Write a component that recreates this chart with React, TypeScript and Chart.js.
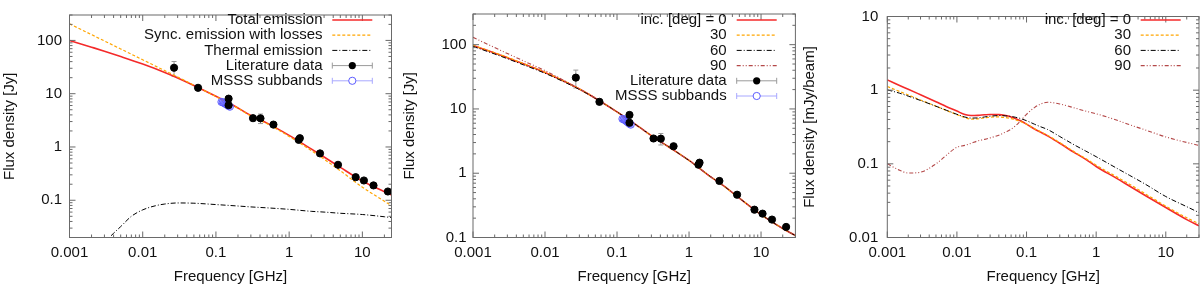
import React, { useEffect, useRef } from 'react';
import { Chart, registerables } from 'chart.js';

Chart.register(...registerables);

const FONT = '"Liberation Sans", Arial, Helvetica, sans-serif';
const TEXT = '#111111';
const AXIS = '#6a6a6a';

// ---------- observational data (panels 1 & 2) ----------
const litFreq = [0.0268, 0.057, 0.149, 0.149, 0.321, 0.406, 0.61, 1.35, 1.4, 2.64, 4.65, 8.1, 10.5, 14.2, 22.3];
const litFlux = [30.7, 12.9, 8.07, 6.1, 3.47, 3.45, 2.63, 1.36, 1.46, 0.758, 0.463, 0.271, 0.235, 0.19, 0.146];
const litErr = [9.5, 1.3, 0.6, 0.5, 0.2, 0.7, 0.15, 0.07, 0.07, 0.04, 0.025, 0.015, 0.012, 0.01, 0.008];
const msssFreq = [0.119, 0.124, 0.129, 0.134, 0.139, 0.144, 0.149, 0.155];
const msssFlux = [7.0, 6.9, 6.7, 6.5, 6.3, 6.1, 5.9, 5.7];
const msssErr = [0.35, 0.35, 0.33, 0.32, 0.31, 0.3, 0.3, 0.28];

// ---------- panel 1 models ----------
const modelFreq = [0.001, 0.002, 0.003, 0.005, 0.01, 0.02, 0.03, 0.05, 0.1, 0.2, 0.3, 0.5, 1, 2, 3, 5, 10, 20, 30];
const totalFlux = [100, 74.7, 62.8, 49.9, 36, 25.1, 19.8, 14.3, 8.93, 5.4, 3.9, 2.8, 1.65, 0.92, 0.65, 0.415, 0.23, 0.145, 0.113];
const syncFlux = [205, 128.4, 97.6, 69.2, 43.3, 27.1, 20.6, 14.4, 8.85, 5.32, 3.82, 2.73, 1.58, 0.86, 0.59, 0.358, 0.176, 0.096, 0.067];
const thermalFreq = [0.001, 0.002, 0.003, 0.004, 0.005, 0.007, 0.01, 0.015, 0.02, 0.03, 0.05, 0.1, 0.2, 0.3, 0.5, 1, 2, 3, 5, 10, 20, 30];
const thermalFlux = [0.0019, 0.0072, 0.016, 0.024, 0.032, 0.05, 0.066, 0.079, 0.085, 0.089, 0.088, 0.083, 0.078, 0.075, 0.072, 0.0675, 0.062, 0.06, 0.057, 0.054, 0.049, 0.046];

// ---------- panel 2 models (inclination) ----------
const inc0Flux = [97, 74, 62.8, 50.3, 37, 25.8, 20.4, 14.7, 9.0, 5.3, 3.85, 2.65, 1.58, 0.88, 0.64, 0.41, 0.227, 0.138, 0.107];
const inc30Flux = [98, 75, 63.6, 50.8, 37.3, 25.9, 20.4, 14.7, 9.0, 5.3, 3.85, 2.65, 1.58, 0.88, 0.64, 0.41, 0.227, 0.138, 0.107];
const inc60Flux = [94, 71.5, 60.5, 48.6, 35.9, 25.2, 20.1, 14.6, 9.0, 5.3, 3.85, 2.65, 1.58, 0.88, 0.64, 0.41, 0.227, 0.138, 0.107];
const inc90Flux = [130, 90, 73, 56, 39.5, 26.3, 20.6, 14.8, 9.0, 5.3, 3.85, 2.65, 1.58, 0.88, 0.64, 0.41, 0.227, 0.138, 0.107];

// ---------- panel 3 models (mJy/beam) ----------
const mapFreq = [0.001, 0.0015, 0.002, 0.003, 0.005, 0.007, 0.01, 0.013, 0.016, 0.02, 0.025, 0.03, 0.04, 0.05, 0.06, 0.07, 0.08, 0.1, 0.13, 0.16, 0.2, 0.3, 0.5, 0.7, 1, 2, 3, 5, 10, 20, 30];
const map0Flux = [1.38, 1.16, 1.03, 0.867, 0.697, 0.6, 0.52, 0.467, 0.452, 0.455, 0.463, 0.468, 0.466, 0.452, 0.432, 0.41, 0.388, 0.346, 0.297, 0.268, 0.24, 0.19, 0.14, 0.116, 0.092, 0.063, 0.05, 0.0375, 0.0255, 0.0175, 0.0144];
const map30Flux = [1.12, 0.96, 0.86, 0.735, 0.606, 0.533, 0.465, 0.423, 0.405, 0.408, 0.42, 0.43, 0.433, 0.424, 0.41, 0.394, 0.378, 0.345, 0.3, 0.272, 0.245, 0.194, 0.143, 0.119, 0.096, 0.066, 0.053, 0.0395, 0.0267, 0.0185, 0.0154];
const map60Flux = [1.01, 0.91, 0.83, 0.725, 0.605, 0.535, 0.47, 0.432, 0.418, 0.42, 0.433, 0.443, 0.452, 0.448, 0.44, 0.428, 0.415, 0.385, 0.345, 0.318, 0.293, 0.235, 0.178, 0.15, 0.125, 0.0866, 0.07, 0.0534, 0.036, 0.0262, 0.0218];
const map90Flux = [0.1, 0.082, 0.075, 0.077, 0.1, 0.13, 0.168, 0.178, 0.19, 0.205, 0.215, 0.225, 0.245, 0.27, 0.295, 0.33, 0.375, 0.47, 0.58, 0.65, 0.685, 0.65, 0.57, 0.52, 0.478, 0.39, 0.34, 0.29, 0.232, 0.195, 0.178];

// ---------- tick values ----------
const xTicks = [0.001, 0.01, 0.1, 1, 10];
const yTicks1 = [0.1, 1, 10, 100];
const yTicks2 = [0.1, 1, 10, 100];
const yTicks3 = [0.01, 0.1, 1, 10];

const RED = '#f42a2a';
const ORANGE = '#ffa500';
const BLACK = '#000000';
const BROWN = '#b44848';
const DOTDASH = [5, 2, 1, 2];
const BROWNDASH = [4, 2, 1, 2, 1, 2];

type Series = {
  label: string;
  freq: number[];
  flux: number[];
  err?: number[];
  color: string;
  width?: number;
  dash?: number[];
  marker?: 'filled' | 'open';
  bar?: string;
  order: number;
};

type Panel = {
  key: string;
  left: number;
  yWidth: number;
  padRight: number;
  xMax: number;
  yMin: number;
  yMax: number;
  yTicks: number[];
  yTitle: string;
  yPad: number;
  legend: { textRight: number; x1: number; x2: number; y0: number; dy: number };
  series: Series[];
};

const litSeries: Series = { label: 'Literature data', freq: litFreq, flux: litFlux, err: litErr, color: '#000', marker: 'filled', bar: '#9a9a9a', order: 0 };
const msssSeries: Series = { label: 'MSSS subbands', freq: msssFreq, flux: msssFlux, err: msssErr, color: '#5c5cff', marker: 'open', bar: '#a8a8ff', order: 1 };

const panels: Panel[] = [
  {
    key: 'p1', left: 0, yWidth: 69.5, padRight: 8.5, xMax: 25, yMin: 0.02, yMax: 300, yTicks: yTicks1,
    yTitle: 'Flux density [Jy]', yPad: 7.5,
    legend: { textRight: 322.5, x1: 332.3, x2: 372.3, y0: 20, dy: 15.2 },
    series: [
      { label: 'Total emission', freq: modelFreq, flux: totalFlux, color: RED, width: 1.6, order: 5 },
      { label: 'Sync. emission with losses', freq: modelFreq, flux: syncFlux, color: ORANGE, width: 1.2, dash: [3, 2], order: 4 },
      { label: 'Thermal emission', freq: thermalFreq, flux: thermalFlux, color: BLACK, width: 1, dash: DOTDASH, order: 3 },
      litSeries,
      msssSeries,
    ],
  },
  {
    key: 'p2', left: 400, yWidth: 73, padRight: 4, xMax: 30, yMin: 0.1, yMax: 300, yTicks: yTicks2,
    yTitle: 'Flux density [Jy]', yPad: 6.5,
    legend: { textRight: 326.7, x1: 336.7, x2: 376.7, y0: 20, dy: 15.2 },
    series: [
      { label: 'inc. [deg] = 0', freq: modelFreq, flux: inc0Flux, color: RED, width: 1.6, order: 5 },
      { label: '30', freq: modelFreq, flux: inc30Flux, color: ORANGE, width: 1.2, dash: [3, 2], order: 4 },
      { label: '60', freq: modelFreq, flux: inc60Flux, color: BLACK, width: 1, dash: DOTDASH, order: 3 },
      { label: '90', freq: modelFreq, flux: inc90Flux, color: BROWN, width: 1.1, dash: BROWNDASH, order: 2 },
      litSeries,
      msssSeries,
    ],
  },
  {
    key: 'p3', left: 800, yWidth: 87.3, padRight: 1, xMax: 30, yMin: 0.01, yMax: 10, yTicks: yTicks3,
    yTitle: 'Flux density [mJy/beam]', yPad: 9,
    legend: { textRight: 331, x1: 340.7, x2: 380.7, y0: 20, dy: 15.2 },
    series: [
      { label: 'inc. [deg] = 0', freq: mapFreq, flux: map0Flux, color: RED, width: 1.6, order: 5 },
      { label: '30', freq: mapFreq, flux: map30Flux, color: ORANGE, width: 1.2, dash: [3, 2], order: 4 },
      { label: '60', freq: mapFreq, flux: map60Flux, color: BLACK, width: 1, dash: DOTDASH, order: 3 },
      { label: '90', freq: mapFreq, flux: map90Flux, color: BROWN, width: 1.1, dash: BROWNDASH, order: 2 },
    ],
  },
];

function line(ctx: CanvasRenderingContext2D, x1: number, y1: number, x2: number, y2: number) {
  ctx.beginPath();
  ctx.moveTo(x1, y1);
  ctx.lineTo(x2, y2);
  ctx.stroke();
}

function makePlugin(panel: Panel) {
  return {
    id: 'gnuplotLook_' + panel.key,
    beforeDatasetsDraw(chart: any) {
      const ctx: CanvasRenderingContext2D = chart.ctx;
      const ys = chart.scales.y;
      ctx.save();
      panel.series.forEach((s, i) => {
        if (!s.err) return;
        const meta = chart.getDatasetMeta(i);
        ctx.strokeStyle = s.bar || '#999';
        ctx.lineWidth = 1;
        ctx.setLineDash([]);
        s.flux.forEach((v, j) => {
          const el = meta.data[j];
          if (!el) return;
          const x = el.x;
          const yt = ys.getPixelForValue(v + s.err![j]);
          const yb = ys.getPixelForValue(Math.max(v - s.err![j], 1e-6));
          line(ctx, x, yt, x, yb);
          line(ctx, x - 2.5, yt, x + 2.5, yt);
          line(ctx, x - 2.5, yb, x + 2.5, yb);
        });
      });
      ctx.restore();
    },
    afterDatasetsDraw(chart: any) {
      const ctx: CanvasRenderingContext2D = chart.ctx;
      const { left, right, top, bottom } = chart.chartArea;
      const xs = chart.scales.x;
      const ys = chart.scales.y;
      ctx.save();
      ctx.strokeStyle = AXIS;
      ctx.lineWidth = 1;
      ctx.setLineDash([]);
      ctx.strokeRect(left, top, right - left, bottom - top);
      for (let e = -4; e <= 3; e++) {
        for (let m = 1; m <= 9; m++) {
          const v = m * Math.pow(10, e);
          const L = m === 1 ? 6 : 3;
          if (v >= xs.min * 0.9999 && v <= xs.max * 1.0001) {
            const px = xs.getPixelForValue(v);
            line(ctx, px, bottom, px, bottom - L);
            line(ctx, px, top, px, top + L);
          }
          if (v >= ys.min * 0.9999 && v <= ys.max * 1.0001) {
            const py = ys.getPixelForValue(v);
            line(ctx, left, py, left + L, py);
            line(ctx, right, py, right - L, py);
          }
        }
      }
      ctx.restore();
    },
    afterDraw(chart: any) {
      const ctx: CanvasRenderingContext2D = chart.ctx;
      const lg = panel.legend;
      ctx.save();
      ctx.font = `15px ${FONT}`;
      ctx.textAlign = 'right';
      ctx.textBaseline = 'middle';
      panel.series.forEach((s, i) => {
        const y = lg.y0 + i * lg.dy;
        ctx.fillStyle = TEXT;
        ctx.fillText(s.label, lg.textRight, y);
        if (s.marker) {
          ctx.strokeStyle = s.bar || '#999';
          ctx.lineWidth = 1;
          ctx.setLineDash([]);
          line(ctx, lg.x1, y, lg.x2, y);
          line(ctx, lg.x1, y - 3, lg.x1, y + 3);
          line(ctx, lg.x2, y - 3, lg.x2, y + 3);
          const cx = (lg.x1 + lg.x2) / 2;
          ctx.beginPath();
          ctx.arc(cx, y, 3.6, 0, Math.PI * 2);
          if (s.marker === 'filled') {
            ctx.fillStyle = '#000';
            ctx.fill();
          } else {
            ctx.fillStyle = '#fff';
            ctx.fill();
            ctx.strokeStyle = s.color;
            ctx.stroke();
          }
        } else {
          ctx.strokeStyle = s.color;
          ctx.lineWidth = s.width || 1;
          ctx.setLineDash(s.dash || []);
          line(ctx, lg.x1, y, lg.x2, y);
        }
      });
      ctx.restore();
    },
  };
}

function buildConfig(panel: Panel): any {
  const tickFont = { family: FONT, size: 15, lineHeight: 1 };
  const titleFont = { family: FONT, size: 15, lineHeight: 1.2 };
  return {
    type: 'line',
    data: {
      datasets: panel.series.map((s) => ({
        label: s.label,
        data: s.freq.map((f, i) => ({ x: f, y: s.flux[i] })),
        order: s.order,
        showLine: !s.marker,
        borderColor: s.marker ? (s.marker === 'filled' ? '#000' : s.color) : s.color,
        backgroundColor: s.marker === 'filled' ? '#000' : s.marker === 'open' ? 'rgba(110,110,255,0.12)' : s.color,
        borderWidth: s.marker ? 1 : s.width,
        borderDash: s.dash || [],
        pointRadius: s.marker ? 3.6 : 0,
        pointHoverRadius: 0,
        pointBorderWidth: 1,
        cubicInterpolationMode: 'monotone',
        fill: false,
      })),
    },
    options: {
      responsive: false,
      animation: false,
      events: [],
      layout: { padding: { top: 8.5, right: panel.padRight, left: 0, bottom: 0 } },
      plugins: { legend: { display: false }, tooltip: { enabled: false } },
      scales: {
        x: {
          type: 'logarithmic',
          min: 0.001,
          max: panel.xMax,
          bounds: 'data',
          grid: { display: false, drawTicks: false, tickLength: 0 },
          border: { display: false },
          afterBuildTicks: (s: any) => {
            s.ticks = xTicks.map((v) => ({ value: v }));
          },
          afterFit: (s: any) => {
            s.height = 49.5;
          },
          ticks: {
            autoSkip: false,
            maxRotation: 0,
            minRotation: 0,
            padding: 8.3,
            color: TEXT,
            font: tickFont,
            callback: (v: any) => String(v),
          },
          title: {
            display: true,
            text: 'Frequency [GHz]',
            color: TEXT,
            font: titleFont,
            padding: { top: 0, bottom: 1.3 },
          },
        },
        y: {
          type: 'logarithmic',
          min: panel.yMin,
          max: panel.yMax,
          bounds: 'data',
          grid: { display: false, drawTicks: false, tickLength: 0 },
          border: { display: false },
          afterBuildTicks: (s: any) => {
            s.ticks = panel.yTicks.map((v) => ({ value: v }));
          },
          afterFit: (s: any) => {
            s.width = panel.yWidth;
          },
          ticks: {
            autoSkip: false,
            padding: panel.yPad,
            color: TEXT,
            font: tickFont,
            callback: (v: any) => String(v),
          },
          title: {
            display: true,
            text: panel.yTitle,
            color: TEXT,
            font: titleFont,
            padding: { top: 1, bottom: 0 },
          },
        },
      },
    },
    plugins: [makePlugin(panel)],
  };
}

function PanelChart({ panel }: { panel: Panel }) {
  const ref = useRef<HTMLCanvasElement | null>(null);
  useEffect(() => {
    if (!ref.current) return;
    const chart = new Chart(ref.current, buildConfig(panel));
    return () => chart.destroy();
  }, [panel]);
  return (
    <canvas
      ref={ref}
      width={400}
      height={287}
      style={{ position: 'absolute', left: panel.left, top: 0, width: 400, height: 287 }}
    />
  );
}

export default function App() {
  return (
    <div style={{ position: 'absolute', left: 0, top: 0, width: 1200, height: 287, background: '#fff', overflow: 'hidden' }}>
      {panels.map((p) => (
        <PanelChart key={p.key} panel={p} />
      ))}
    </div>
  );
}
